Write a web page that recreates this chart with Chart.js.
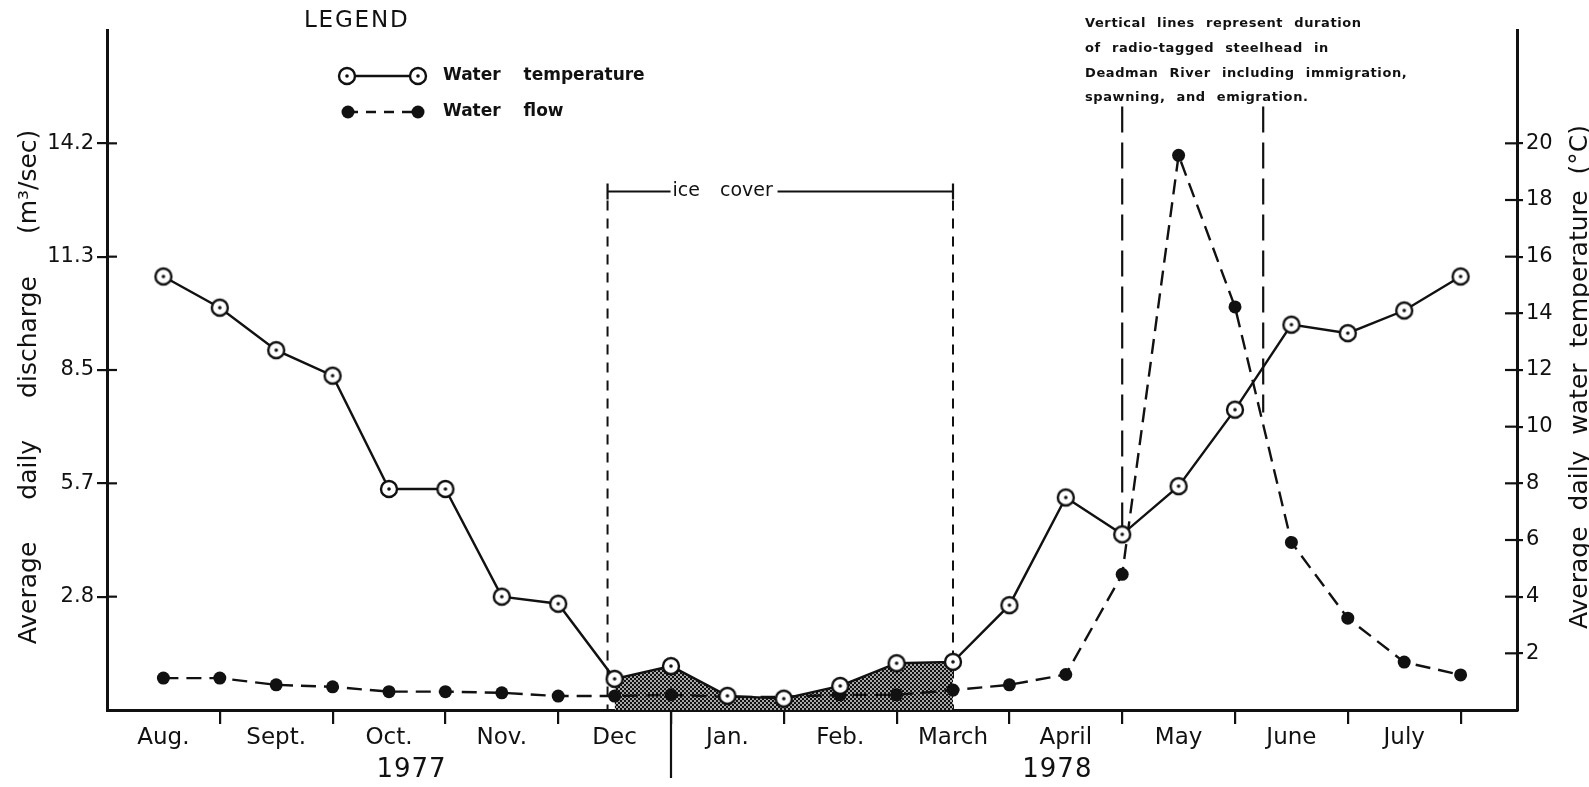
<!DOCTYPE html>
<html>
<head>
<meta charset="utf-8">
<script src="https://cdn.jsdelivr.net/npm/chart.js@4.4.0/dist/chart.umd.min.js"></script>
<style>
  html, body { margin: 0; padding: 0; background: #fff; }
  #wrap { position: relative; width: 1589px; height: 787px; }
</style>
</head>
<body>
<div id="wrap"><canvas id="chart" width="1589" height="787"></canvas></div>
<script>
// two readings per month, Aug 1977 - July 1978
const months = ['Aug.', 'Sept.', 'Oct.', 'Nov.', 'Dec', 'Jan.', 'Feb.', 'March', 'April', 'May', 'June', 'July'];
const waterTemp = [15.3, 14.2, 12.7, 11.8, 7.8, 7.8, 4.0, 3.75, 1.1, 1.55, 0.5, 0.4, 0.85, 1.65, 1.7, 3.7,
                   7.5, 6.2, 7.9, 10.6, 13.6, 13.3, 14.1, 15.3];
const waterFlow = [0.80, 0.80, 0.63, 0.58, 0.46, 0.46, 0.43, 0.35, 0.35, 0.38, 0.33, 0.33, 0.38, 0.38, 0.50, 0.63,
                   0.89, 3.4, 13.9, 10.1, 4.2, 2.3, 1.2, 0.88];
const dischargeTicks = [2.84, 5.68, 8.52, 11.36, 14.2];
const dischargeLabels = ['2.8', '5.7', '8.5', '11.3', '14.2'];
const tempTicks = [2, 4, 6, 8, 10, 12, 14, 16, 18, 20];
const iceStart = 8, iceEnd = 14;           // points under ice
const years = [['1977', 4.4], ['1978', 15.85]];
const noteLines = ['Vertical lines represent duration', 'of radio-tagged steelhead in',
                   'Deadman River including immigration,', 'spawning, and emigration.'];

const INK = '#111';
const FONT = 'DejaVu Sans';

function makeMarker() {
  const c = document.createElement('canvas');
  c.width = c.height = 22;
  const g = c.getContext('2d');
  g.beginPath(); g.arc(11, 11, 8, 0, Math.PI * 2);
  g.fillStyle = '#fff'; g.fill();
  g.lineWidth = 2.4; g.strokeStyle = INK; g.stroke();
  g.beginPath(); g.arc(11, 11, 1.8, 0, Math.PI * 2);
  g.fillStyle = INK; g.fill();
  return c;
}
function makePattern() {
  const c = document.createElement('canvas');
  c.width = c.height = 4;
  const g = c.getContext('2d');
  g.fillStyle = '#a8a8a8'; g.fillRect(0, 0, 4, 4);
  g.fillStyle = '#101010'; g.fillRect(0, 0, 2, 2); g.fillRect(2, 2, 2, 2);
  return g.createPattern(c, 'repeat');
}
const marker = makeMarker();

function txt(ctx, s, x, y, font, o = {}) {
  ctx.save();
  ctx.font = font;
  ctx.fillStyle = INK;
  ctx.textAlign = o.align || 'left';
  ctx.textBaseline = 'middle';
  ctx.wordSpacing = o.ws || '0px';
  ctx.letterSpacing = o.ls || '0px';
  ctx.translate(x, y);
  if (o.rot) ctx.rotate(o.rot);
  ctx.fillText(s, 0, 0);
  ctx.restore();
}
function seg(ctx, x1, y1, x2, y2, w, dash) {
  ctx.save();
  ctx.strokeStyle = INK; ctx.lineWidth = w;
  ctx.setLineDash(dash || []);
  ctx.beginPath(); ctx.moveTo(x1, y1); ctx.lineTo(x2, y2); ctx.stroke();
  ctx.restore();
}

const extras = {
  id: 'extras',
  beforeDatasetsDraw(chart) {
    const { ctx, scales: { x, y2 }, chartArea: a } = chart;
    // ice cover
    const barY = y2.getPixelForValue(18.3);
    const xl = x.getPixelForValue(iceStart - 0.125), xr = x.getPixelForValue(iceEnd);
    seg(ctx, xl, barY + 9, xl, a.bottom, 2, [10, 8]);
    seg(ctx, xr, barY + 9, xr, a.bottom, 2, [10, 8]);
    // steelhead duration
    const top = y2.getPixelForValue(21.3);
    seg(ctx, x.getPixelForValue(17), top, x.getPixelForValue(17), y2.getPixelForValue(waterTemp[17]), 2.2, [26, 10]);
    seg(ctx, x.getPixelForValue(19.5), top, x.getPixelForValue(19.5), y2.getPixelForValue(10.5), 2.2, [26, 10]);
  },
  afterDraw(chart) {
    const { ctx, scales: { x, y, y2 }, chartArea: a } = chart;
    // inner halves of the y tick marks
    y.ticks.forEach(t => { const p = y.getPixelForValue(t.value); seg(ctx, a.left, p, a.left + 10, p, 2.2); });
    y2.ticks.forEach(t => { const p = y2.getPixelForValue(t.value); seg(ctx, a.right - 12, p, a.right, p, 2.2); });
    // year divider and years
    const xd = x.getPixelForValue(9);
    seg(ctx, xd, a.bottom, xd, a.bottom + 68, 2.2);
    years.forEach(([s, v]) => txt(ctx, s, x.getPixelForValue(v), a.bottom + 60, `26px ${FONT}`, { align: 'center', ls: '1px' }));
    // ice cover bar
    const barY = y2.getPixelForValue(18.3);
    const xl = x.getPixelForValue(iceStart - 0.125), xr = x.getPixelForValue(iceEnd);
    seg(ctx, xl, barY - 8, xl, barY + 8, 2.2);
    seg(ctx, xr, barY - 8, xr, barY + 8, 2.2);
    seg(ctx, xl, barY, xl + 63, barY, 2.2);
    seg(ctx, xl + 170, barY, xr, barY, 2.2);
    txt(ctx, 'ice cover', xl + 65, barY, `19px ${FONT}`, { ws: '14px' });
    // legend
    txt(ctx, 'LEGEND', 304, 21, `23px ${FONT}`, { ls: '1.8px' });
    seg(ctx, 347, 76, 418, 76, 2.4);
    ctx.drawImage(marker, 336, 65); ctx.drawImage(marker, 407, 65);
    txt(ctx, 'Water temperature', 443, 76, `bold 17px ${FONT}`, { ws: '17px' });
    seg(ctx, 348, 112, 418, 112, 2.4, [10, 8]);
    [348, 418].forEach(px => { ctx.beginPath(); ctx.arc(px, 112, 6.5, 0, Math.PI * 2); ctx.fillStyle = INK; ctx.fill(); });
    txt(ctx, 'Water flow', 443, 112, `bold 17px ${FONT}`, { ws: '17px' });
    // note
    noteLines.forEach((s, i) => txt(ctx, s, 1085, 24 + i * 24.7, `bold 13px ${FONT}`, { ws: '6px', ls: '0.6px' }));
    // axis titles
    txt(ctx, 'Average daily discharge (m³/sec)', 29, 387, `25px ${FONT}`, { align: 'center', rot: -Math.PI / 2, ws: '34px' });
    txt(ctx, 'Average daily water temperature (°C)', 1580, 377, `25px ${FONT}`, { align: 'center', rot: -Math.PI / 2, ws: '8px' });
  }
};

const idx = waterTemp.map((_, i) => i);

new Chart(document.getElementById('chart'), {
  type: 'line',
  data: {
    datasets: [
      {
        label: 'Water temperature',
        data: waterTemp.map((v, i) => ({ x: i, y: v })),
        yAxisID: 'y2',
        borderColor: INK, borderWidth: 2.4,
        pointStyle: marker, pointRadius: 9,
        order: 0
      },
      {
        label: 'Water flow',
        data: waterFlow.map((v, i) => ({ x: i, y: v })),
        yAxisID: 'y',
        borderColor: INK, borderWidth: 2.4, borderDash: [15, 8],
        pointRadius: 6.5, pointBackgroundColor: INK, pointBorderWidth: 0,
        order: 1
      },
      {
        label: 'ice',
        data: waterTemp.map((v, i) => ({ x: i, y: v })).slice(iceStart, iceEnd + 1),
        yAxisID: 'y2',
        fill: 'origin', backgroundColor: makePattern(),
        borderWidth: 0, pointRadius: 0,
        order: 2
      }
    ]
  },
  options: {
    responsive: false,
    animation: false,
    layout: { padding: { top: 30, left: 0, right: 0, bottom: 0 } },
    plugins: { legend: { display: false }, tooltip: { enabled: false } },
    scales: {
      x: {
        type: 'linear', min: -1, max: 24,
        afterBuildTicks: s => { s.ticks = idx.map(v => ({ value: v })); },
        afterFit: s => { s.height = 77; },
        grid: {
          drawOnChartArea: false, tickLength: 14, lineWidth: 2.2,
          color: c => (c.tick && c.tick.value % 2 === 1) ? INK : 'rgba(0,0,0,0)'
        },
        border: { color: INK, width: 3 },
        ticks: {
          autoSkip: false, maxRotation: 0, padding: 0, color: INK,
          font: { family: FONT, size: 23 },
          callback: v => v % 2 === 0 ? months[v / 2] : ''
        }
      },
      y: {
        position: 'left', min: 0, max: 17.04,
        afterBuildTicks: s => { s.ticks = dischargeTicks.map(v => ({ value: v })); },
        afterFit: s => { s.width = 107; },
        grid: { drawOnChartArea: false, tickLength: 10, lineWidth: 2.2, color: INK },
        border: { color: INK, width: 3 },
        ticks: { padding: 3, color: INK, font: { family: FONT, size: 21 }, callback: (v, i) => dischargeLabels[i] }
      },
      y2: {
        position: 'right', min: 0, max: 24,
        afterBuildTicks: s => { s.ticks = tempTicks.map(v => ({ value: v })); },
        afterFit: s => { s.width = 72; },
        grid: { drawOnChartArea: false, tickLength: 6, lineWidth: 2.2, color: INK },
        border: { color: INK, width: 3 },
        ticks: { padding: 3, color: INK, font: { family: FONT, size: 21 } }
      }
    }
  },
  plugins: [extras]
});
</script>
</body>
</html>
